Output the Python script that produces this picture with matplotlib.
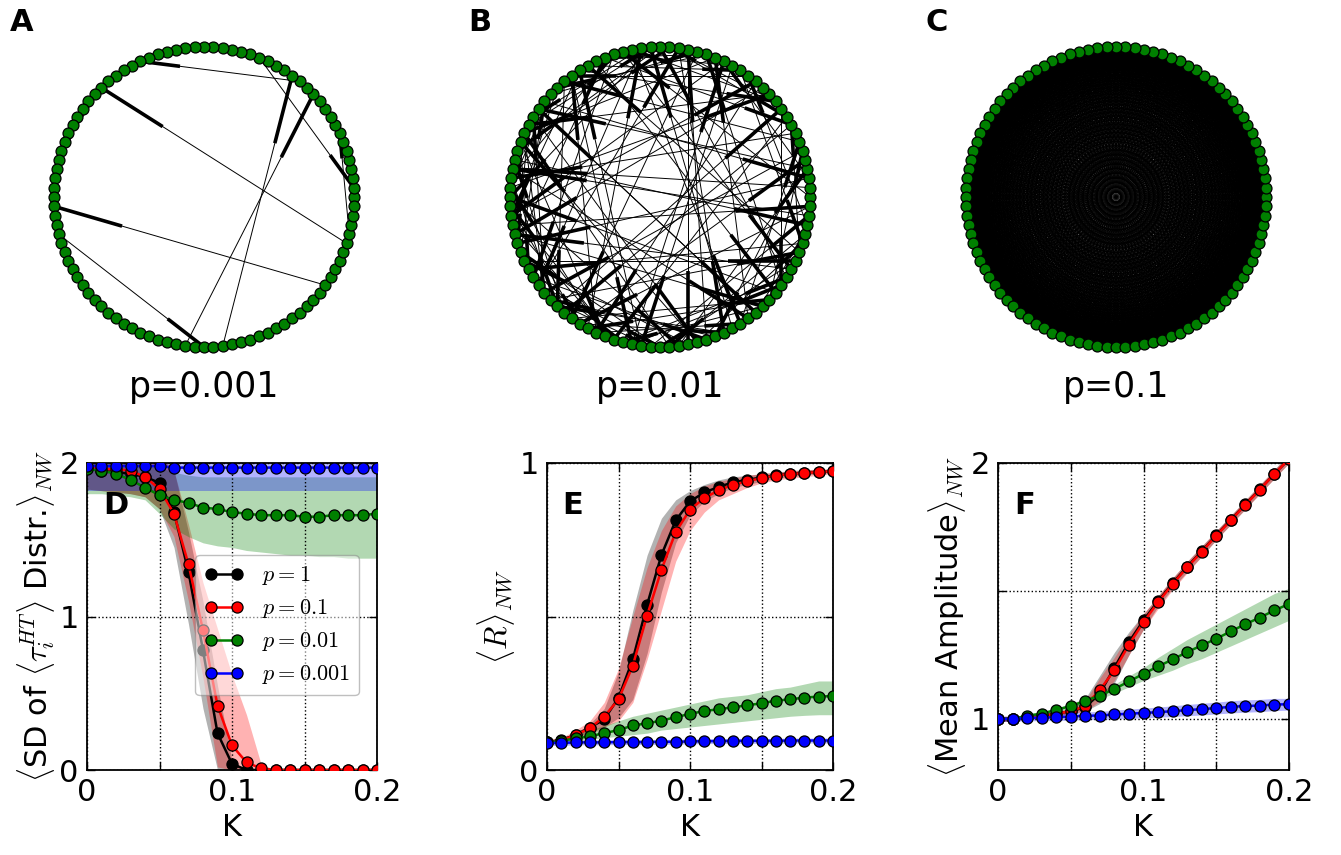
import numpy as np
import matplotlib
matplotlib.use("Agg")
import matplotlib.pyplot as plt
from matplotlib.collections import LineCollection

plt.rcParams['mathtext.fontset'] = 'cm'
plt.rcParams['font.family'] = 'DejaVu Sans'

N_NODES = 100

A_EDGES = [(14, 32), (95, 37), (77, 15), (73, 12), (19, 1), (96, 7),
           (90, 51), (54, 75), (37, 45), (56, 62)]
B_EDGES = [
    (57, 93), (33, 16), (22, 78), (83, 26), (3, 40), (5, 61), (7, 48), (9, 70), (11, 28), (13, 54),
    (15, 35), (17, 73), (19, 43), (21, 65), (24, 9), (26, 50), (28, 84), (30, 59), (32, 89), (34, 11),
    (36, 63), (38, 21), (40, 86), (42, 26), (44, 69), (46, 97), (48, 30), (50, 77), (52, 14), (54, 87),
    (56, 39), (58, 71), (60, 23), (62, 94), (64, 46), (66, 4), (68, 35), (70, 51), (72, 18), (74, 98),
    (76, 43), (78, 57), (80, 22), (82, 63), (84, 6), (86, 40), (88, 67), (90, 20), (92, 54), (94, 33),
    (96, 76), (98, 47), (0, 29), (2, 55), (4, 81), (6, 36), (8, 64), (10, 90), (12, 42), (14, 68),
    (16, 95), (18, 52), (20, 37), (23, 82), (25, 45), (27, 60), (29, 92), (31, 8), (35, 72), (37, 53),
    (39, 2), (41, 79), (43, 61), (45, 24), (47, 85), (49, 12), (51, 66), (53, 99), (55, 31), (59, 80),
    (61, 41), (63, 10), (65, 88), (67, 27), (69, 49), (71, 91), (73, 34), (75, 56), (77, 3), (79, 44),
    (81, 62), (85, 19), (87, 71), (89, 50), (91, 25), (93, 75), (95, 58), (97, 15), (99, 66), (1, 47),
    (34, 52), (48, 63), (60, 75), (72, 90), (88, 5), (2, 18), (20, 31), (44, 58), (66, 82), (86, 96),
    (27, 41), (53, 70), (79, 95), (11, 24), (38, 49), (62, 74), (94, 8), (17, 30), (42, 55), (68, 84),
]
# panel C: every pair of nodes is drawn
C_EDGES = [(i, j) for i in range(N_NODES) for j in range(i + 1, N_NODES)]

P_LABELS = ['p=0.001', 'p=0.01', 'p=0.1']
PANEL_TOP = ['A', 'B', 'C']

K = [0.00, 0.01, 0.02, 0.03, 0.04, 0.05, 0.06, 0.07, 0.08, 0.09, 0.10,
     0.11, 0.12, 0.13, 0.14, 0.15, 0.16, 0.17, 0.18, 0.19, 0.20]
SERIES = ['$p=1$', '$p=0.1$', '$p=0.01$', '$p=0.001$']
COLORS = ['black', 'red', 'green', 'blue']

# D: SD of <tau_i^HT> distribution
D_mean = [
    [1.97, 1.95, 1.94, 1.93, 1.91, 1.87, 1.68, 1.29, 0.78, 0.24, 0.04, 0, 0, 0, 0, 0, 0, 0, 0, 0, 0],
    [1.97, 1.96, 1.96, 1.95, 1.91, 1.83, 1.67, 1.34, 0.91, 0.42, 0.16, 0.05, 0.01, 0, 0, 0, 0, 0, 0, 0, 0],
    [1.96, 1.95, 1.93, 1.89, 1.84, 1.79, 1.76, 1.74, 1.71, 1.70, 1.68, 1.67, 1.66, 1.66, 1.66, 1.65, 1.65, 1.66, 1.66, 1.66, 1.67],
    [1.98, 1.98, 1.98, 1.98, 1.98, 1.98, 1.97, 1.97, 1.97, 1.97, 1.97, 1.97, 1.97, 1.97, 1.97, 1.97, 1.97, 1.97, 1.97, 1.97, 1.97],
]
D_lo = [
    [1.83, 1.82, 1.81, 1.80, 1.78, 1.70, 1.45, 0.95, 0.40, 0, 0, 0, 0, 0, 0, 0, 0, 0, 0, 0, 0],
    [1.83, 1.82, 1.81, 1.80, 1.78, 1.70, 1.52, 1.10, 0.60, 0.02, 0, 0, 0, 0, 0, 0, 0, 0, 0, 0, 0],
    [1.80, 1.80, 1.79, 1.78, 1.76, 1.67, 1.57, 1.52, 1.48, 1.46, 1.45, 1.43, 1.42, 1.41, 1.40, 1.40, 1.39, 1.39, 1.38, 1.38, 1.38],
    [1.815] * 21,
]
D_hi = [
    [2.1, 2.1, 2.1, 2.1, 2.1, 2.05, 1.95, 1.55, 1.10, 0.55, 0.06, 0, 0, 0, 0, 0, 0, 0, 0, 0, 0],
    [2.1, 2.1, 2.1, 2.1, 2.1, 2.05, 1.95, 1.60, 1.22, 0.92, 0.62, 0.36, 0.04, 0, 0, 0, 0, 0, 0, 0, 0],
    [2.05, 2.05, 2.04, 2.02, 2.0, 1.97, 1.94, 1.92, 1.91, 1.91, 1.91, 1.91, 1.91, 1.91, 1.91, 1.91, 1.91, 1.91, 1.91, 1.91, 1.91],
    [2.1] * 21,
]

# E: order parameter <R>
E_mean = [
    [0.09, 0.097, 0.115, 0.138, 0.165, 0.235, 0.36, 0.538, 0.70, 0.813, 0.875, 0.904, 0.922, 0.937, 0.945, 0.953, 0.96, 0.965, 0.968, 0.971, 0.973],
    [0.09, 0.096, 0.114, 0.136, 0.174, 0.23, 0.34, 0.503, 0.652, 0.775, 0.848, 0.886, 0.911, 0.929, 0.94, 0.951, 0.959, 0.964, 0.967, 0.971, 0.973],
    [0.09, 0.095, 0.103, 0.11, 0.12, 0.13, 0.145, 0.152, 0.161, 0.172, 0.183, 0.192, 0.198, 0.204, 0.211, 0.217, 0.226, 0.23, 0.236, 0.239, 0.241],
    [0.088, 0.088, 0.09, 0.09, 0.09, 0.091, 0.091, 0.091, 0.092, 0.092, 0.093, 0.094, 0.094, 0.095, 0.095, 0.095, 0.095, 0.096, 0.096, 0.096, 0.096],
]
E_lo = [
    [0.085, 0.09, 0.105, 0.125, 0.14, 0.17, 0.23, 0.38, 0.58, 0.74, 0.83, 0.875, 0.90, 0.92, 0.93, 0.94, 0.95, 0.955, 0.96, 0.965, 0.97],
    [0.085, 0.09, 0.10, 0.115, 0.14, 0.16, 0.22, 0.36, 0.52, 0.68, 0.78, 0.84, 0.88, 0.90, 0.92, 0.935, 0.945, 0.95, 0.955, 0.96, 0.965],
    [0.085, 0.09, 0.095, 0.10, 0.105, 0.11, 0.115, 0.12, 0.13, 0.135, 0.14, 0.145, 0.15, 0.155, 0.16, 0.165, 0.17, 0.175, 0.178, 0.18, 0.18],
    [0.08, 0.08, 0.082, 0.082, 0.082, 0.083, 0.083, 0.083, 0.084, 0.084, 0.085, 0.086, 0.086, 0.087, 0.087, 0.087, 0.087, 0.088, 0.088, 0.088, 0.088],
]
E_hi = [
    [0.10, 0.105, 0.12, 0.15, 0.20, 0.32, 0.52, 0.70, 0.82, 0.88, 0.91, 0.93, 0.945, 0.955, 0.96, 0.965, 0.97, 0.975, 0.978, 0.98, 0.98],
    [0.10, 0.105, 0.13, 0.16, 0.22, 0.33, 0.50, 0.66, 0.78, 0.86, 0.90, 0.925, 0.94, 0.95, 0.96, 0.965, 0.97, 0.975, 0.978, 0.98, 0.98],
    [0.095, 0.105, 0.12, 0.13, 0.145, 0.16, 0.175, 0.185, 0.195, 0.205, 0.215, 0.225, 0.235, 0.24, 0.245, 0.255, 0.265, 0.27, 0.28, 0.29, 0.29],
    [0.096, 0.096, 0.098, 0.098, 0.098, 0.099, 0.099, 0.099, 0.10, 0.10, 0.101, 0.102, 0.102, 0.103, 0.103, 0.103, 0.103, 0.104, 0.104, 0.104, 0.104],
]

# F: mean amplitude
F_mean = [
    [1.0, 1.0, 1.007, 1.01, 1.02, 1.03, 1.045, 1.10, 1.20, 1.30, 1.385, 1.46, 1.53, 1.595, 1.655, 1.718, 1.778, 1.838, 1.897, 1.958, 2.015],
    [1.0, 1.0, 1.007, 1.01, 1.02, 1.03, 1.05, 1.113, 1.19, 1.29, 1.378, 1.456, 1.527, 1.592, 1.653, 1.716, 1.776, 1.837, 1.896, 1.958, 2.015],
    [1.0, 1.0, 1.012, 1.02, 1.035, 1.05, 1.07, 1.091, 1.117, 1.146, 1.176, 1.205, 1.232, 1.261, 1.287, 1.313, 1.342, 1.37, 1.396, 1.424, 1.449],
    [1.0, 1.0, 1.003, 1.005, 1.006, 1.009, 1.012, 1.013, 1.017, 1.02, 1.023, 1.026, 1.03, 1.034, 1.038, 1.042, 1.047, 1.05, 1.052, 1.056, 1.057],
]
F_lo = [
    [0.99, 0.99, 1.0, 1.0, 1.01, 1.02, 1.03, 1.06, 1.14, 1.25, 1.35, 1.44, 1.51, 1.575, 1.635, 1.70, 1.76, 1.82, 1.88, 1.94, 2.0],
    [0.99, 0.99, 1.0, 1.0, 1.01, 1.02, 1.03, 1.07, 1.15, 1.25, 1.35, 1.43, 1.505, 1.57, 1.635, 1.70, 1.76, 1.82, 1.88, 1.94, 2.0],
    [0.995, 0.995, 1.005, 1.015, 1.028, 1.042, 1.06, 1.078, 1.10, 1.125, 1.15, 1.17, 1.19, 1.215, 1.235, 1.26, 1.285, 1.31, 1.335, 1.36, 1.385],
    [0.99, 0.99, 0.992, 0.993, 0.993, 0.995, 0.997, 0.997, 1.0, 1.002, 1.004, 1.006, 1.009, 1.012, 1.015, 1.019, 1.023, 1.026, 1.028, 1.032, 1.034],
]
F_hi = [
    [1.01, 1.01, 1.015, 1.02, 1.03, 1.04, 1.08, 1.17, 1.26, 1.34, 1.41, 1.48, 1.55, 1.615, 1.675, 1.735, 1.795, 1.855, 1.915, 1.975, 2.035],
    [1.01, 1.01, 1.015, 1.02, 1.03, 1.04, 1.07, 1.16, 1.24, 1.33, 1.41, 1.48, 1.55, 1.615, 1.675, 1.735, 1.795, 1.855, 1.915, 1.975, 2.035],
    [1.005, 1.005, 1.02, 1.028, 1.042, 1.06, 1.08, 1.105, 1.135, 1.168, 1.20, 1.24, 1.275, 1.31, 1.34, 1.37, 1.40, 1.43, 1.46, 1.49, 1.51],
    [1.01, 1.01, 1.014, 1.017, 1.019, 1.023, 1.027, 1.029, 1.034, 1.038, 1.042, 1.046, 1.051, 1.056, 1.061, 1.065, 1.071, 1.074, 1.076, 1.08, 1.08],
]

W, H = 1341, 855
fig = plt.figure(figsize=(W / 100, H / 100), dpi=100)


def px_axes(left, top, width, height):
    return fig.add_axes([left / W, 1 - (top + height) / H, width / W, height / H])


def draw_network(ax, edges, ring_lw, thin_lw, thick_lw):
    ang = 2 * np.pi * np.arange(N_NODES) / N_NODES
    pos = np.column_stack([np.cos(ang), np.sin(ang)])
    ring = [(pos[i], pos[(i + 1) % N_NODES]) for i in range(N_NODES)]
    ax.add_collection(LineCollection(ring, colors='black', linewidths=ring_lw))
    segs = [(pos[s], pos[t]) for s, t in edges]
    ax.add_collection(LineCollection(segs, colors='black', linewidths=thin_lw))
    if thick_lw > 0:
        stubs = [(pos[t], pos[t] + 0.25 * (pos[s] - pos[t])) for s, t in edges]
        ax.add_collection(LineCollection(stubs, colors='black', linewidths=thick_lw))
    ax.scatter(pos[:, 0], pos[:, 1], s=62, c='green', edgecolors='black',
               linewidths=0.9, zorder=3)
    ax.set_xlim(-1.1, 1.1)
    ax.set_ylim(-1.1, 1.1)
    ax.set_aspect('equal')
    ax.axis('off')


centers = [204, 660, 1116]
net_edges = [A_EDGES, B_EDGES, C_EDGES]
styles = [(0.7, 0.7, 2.6), (0.7, 0.7, 2.6), (0.7, 0.22, 0)]
letter_x = [10, 468, 925]
for cx, edges, st, lab, let, lx in zip(centers, net_edges, styles, P_LABELS, PANEL_TOP, letter_x):
    ax = px_axes(cx - 165, 197 - 165, 330, 330)
    draw_network(ax, edges, *st)
    fig.text(cx / W, 1 - 387 / H, lab, fontsize=25, ha='center', va='center')
    fig.text(lx / W, 1 - 8 / H, let, fontsize=22, weight='bold', ha='left', va='top')


def draw_panel(ax, means, los, his, ylim, yticks, yticklabels, ylabel, letter):
    for lo, hi, c in zip(los, his, COLORS):
        ax.fill_between(K, lo, hi, color=c, alpha=0.3, linewidth=0, zorder=1)
    lines = []
    for m, c, lab in zip(means, COLORS, SERIES):
        ln, = ax.plot(K, m, '-o', color=c, lw=1.8, ms=8, mfc=c, mec='black',
                      mew=0.9, label=lab, zorder=3)
        lines.append(ln)
    ax.set_xlim(0, 0.2)
    ax.set_ylim(*ylim)
    ax.set_xticks([0, 0.05, 0.1, 0.15, 0.2])
    ax.set_xticklabels(['0', '', '0.1', '', '0.2'])
    ax.set_yticks(yticks)
    ax.set_yticklabels(yticklabels)
    ax.grid(True, linestyle=':', color='black', linewidth=1)
    ax.tick_params(direction='in', top=True, right=True, length=6, width=1,
                   labelsize=22, pad=6)
    for sp in ax.spines.values():
        sp.set_linewidth(1.3)
    ax.set_xlabel('K', fontsize=22)
    ax.set_ylabel(ylabel, fontsize=22, labelpad=2)
    ax.text(0.055, 0.86, letter, transform=ax.transAxes, fontsize=22,
            weight='bold', ha='left', va='center', zorder=5)
    return lines


axD = px_axes(87, 463, 290, 307)
linesD = draw_panel(axD, D_mean, D_lo, D_hi, (0, 2), [0, 1, 2], ['0', '1', '2'],
                    r'$\langle$SD of $\langle\tau_i^{HT}\rangle$ Distr.$\rangle_{NW}$', 'D')
leg = axD.legend(handles=linesD, loc='upper right', bbox_to_anchor=(0.975, 0.735),
                 fontsize=16, numpoints=2, handlelength=1.8, labelspacing=0.45,
                 fancybox=True, framealpha=0.5, edgecolor='gray')
leg.set_zorder(6)

axE = px_axes(547, 463, 286, 307)
draw_panel(axE, E_mean, E_lo, E_hi, (0, 1), [0, 0.5, 1], ['0', '', '1'],
           r'$\langle R\rangle_{NW}$', 'E')

axF = px_axes(998, 463, 291, 307)
draw_panel(axF, F_mean, F_lo, F_hi, (0.8, 2), [1, 1.5, 2], ['1', '', '2'],
           r'$\langle$Mean Amplitude$\rangle_{NW}$', 'F')

fig.savefig('out.png', dpi=100)
